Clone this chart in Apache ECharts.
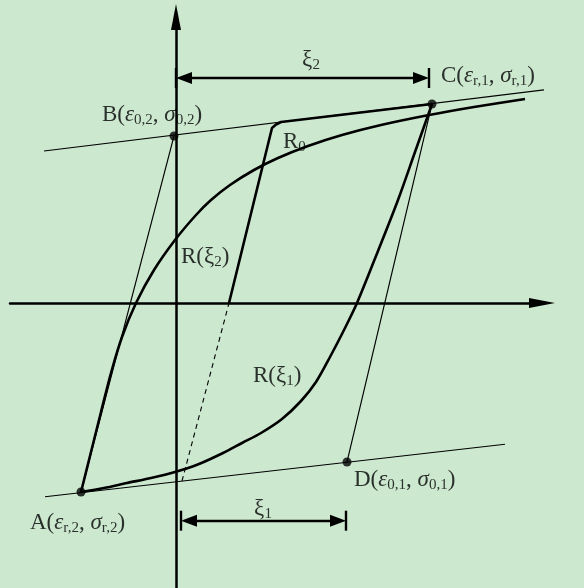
<!DOCTYPE html>
<html>
<head>
<meta charset="utf-8">
<script src="https://cdn.jsdelivr.net/npm/echarts@6/dist/echarts.min.js"></script>
<style>
  html, body { margin: 0; padding: 0; background: #cce8cf; }
  #chart { width: 584px; height: 588px; }
</style>
</head>
<body>
<div id="chart"></div>
<script>
// Hysteresis model of steel: strain ε on x, stress σ on y (normalised units)

// Characteristic points
const pointA = [-4.75, -9.45];   // reversal point (ε r,2 , σ r,2)
const pointB = [-0.1, 8.35];     // asymptote intersection (ε 0,2 , σ 0,2)
const pointC = [12.8, 9.95];     // reversal point (ε r,1 , σ r,1)
const pointD = [8.55, -7.95];    // asymptote intersection (ε 0,1 , σ 0,1)
const pointNames = ['A', 'B', 'C', 'D'];
const pointSubs = [['r,2', 'r,2'], ['0,2', '0,2'], ['r,1', 'r,1'], ['0,1', '0,1']];

// Hardening asymptotes
const upperAsymptote = [[-6.6, 7.6], [20.4, 10.9]];
const lowerAsymptote = [[-6.55, -9.685], [16.45, -7.06]];

// Loading branch with initial curvature R0 (A towards C)
const curveR0 = [
  [-4.75, -9.45], [-4.25, -7.45], [-3.75, -5.45], [-3.25, -3.5], [-2.7, -1.7],
  [-2.0, 0.0], [-1.1, 1.65], [-0.05, 3.15], [1.0, 4.4], [1.75, 5.15],
  [2.7, 5.9], [3.9, 6.65], [5.1, 7.25], [6.6, 7.85], [8.3, 8.4],
  [10.25, 8.9], [12.65, 9.4], [14.9, 9.8], [17.45, 10.2]
];

// Unloading branch R(ξ1) (C back to A)
const curveXi1 = [
  [12.8, 9.95], [11.95, 7.55], [11.1, 5.15], [10.1, 2.6], [9.05, 0.0],
  [8.4, -1.35], [7.7, -2.7], [7.0, -3.95], [6.25, -4.9], [5.3, -5.8],
  [4.25, -6.5], [3.3, -7.0], [2.35, -7.5], [1.15, -8.05], [-0.05, -8.45],
  [-1.25, -8.75], [-2.45, -9.0], [-3.6, -9.25], [-4.75, -9.45]
];

// Reloading branch R(ξ2): elastic part, then along the asymptote to C
const branchXi2 = [[2.65, 0.0], [4.8, 8.75], [5.0, 8.925], [5.25, 9.05], [12.8, 9.95]];
const branchXi2Hidden = [[0.3, -8.9], [2.65, 0.0]];

// Plastic excursions ξ2 (upper) and ξ1 (lower): [start ε, end ε, σ level]
const xi2Span = [0.0, 12.65, 11.25];
const xi1Span = [0.25, 8.5, -10.885];

const FONT = '"Liberation Serif", "Times New Roman", serif';
const INK = '#000';

const rich = {
  n: { fontFamily: FONT, fontSize: 23, color: INK },
  i: { fontFamily: FONT, fontSize: 23, fontStyle: 'italic', color: INK },
  s: { fontFamily: FONT, fontSize: 15, color: INK, padding: [10, 0, 0, 0] }
};

function pointLabel(k) {
  const [a, b] = pointSubs[k];
  return '{n|' + pointNames[k] + '(}{i|ε}{s|' + a + '}{n|, }{i|σ}{s|' + b + '}{n|)}';
}

const labelOffsets = [[-51, 31], [-72, -21], [9, -28], [7, 18]];
const points = [pointA, pointB, pointC, pointD];

function thin(data, extra) {
  return Object.assign({
    type: 'line', data: data, symbol: 'none', clip: false, silent: true,
    lineStyle: { color: INK, width: 1.1 }, z: 2
  }, extra || {});
}
function thick(data, extra) {
  return Object.assign({
    type: 'line', data: data, symbol: 'none', clip: false, silent: true,
    lineStyle: { color: INK, width: 2.6 }, z: 3
  }, extra || {});
}

// Dimension arrow with tips landing on the tick marks
const tipInset = 0.4;
function dimension(span) {
  const [x0, x1, y] = span;
  return [
    [{ coord: [x0 + tipInset, y], symbol: 'triangle' }, { coord: [x1 - tipInset, y], symbol: 'triangle' }],
    [{ coord: [x0, y + 0.5], symbol: 'none' }, { coord: [x0, y - 0.5], symbol: 'none' }],
    [{ coord: [x1, y + 0.5], symbol: 'none' }, { coord: [x1, y - 0.5], symbol: 'none' }]
  ];
}

const chart = echarts.init(document.getElementById('chart'), null, { renderer: 'canvas' });

const axisCommon = {
  type: 'value',
  axisLine: {
    show: true, onZero: true,
    symbol: ['none', 'triangle'], symbolSize: [10, 26],
    lineStyle: { color: INK, width: 2.5 }
  },
  axisTick: { show: false },
  axisLabel: { show: false },
  splitLine: { show: false }
};

chart.setOption({
  animation: false,
  backgroundColor: '#cce8cf',
  grid: { left: 10, right: 42, top: 17, bottom: 0, containLabel: false },
  xAxis: Object.assign({}, axisCommon, { min: -8.3, max: 18.3 }),
  yAxis: Object.assign({}, axisCommon, { min: -14.25, max: 14.3 }),
  series: [
    thin(upperAsymptote),
    thin(lowerAsymptote),
    thin([pointA, pointB]),
    thin([pointC, pointD]),
    thick(curveR0, { smooth: 0.3 }),
    thick(curveXi1, { smooth: 0.3 }),
    thick(branchXi2),
    thin(branchXi2Hidden, { lineStyle: { color: INK, width: 1.1, type: [5, 4] } }),
    {
      type: 'line', data: [], silent: true,
      markLine: {
        silent: true, animation: false,
        symbolSize: [12, 16],
        label: { show: false },
        lineStyle: { color: INK, width: 2.4, type: 'solid' },
        emphasis: { disabled: true },
        data: dimension(xi2Span).concat(dimension(xi1Span))
      }
    },
    {
      type: 'scatter', silent: true, z: 5,
      symbol: 'circle', symbolSize: 9,
      itemStyle: { color: INK },
      data: points.map((p, k) => ({
        value: p,
        label: {
          show: true, position: 'inside', align: 'left', verticalAlign: 'middle',
          offset: labelOffsets[k], formatter: pointLabel(k), rich: rich
        }
      }))
    },
    {
      type: 'scatter', silent: true, z: 5,
      symbolSize: 0,
      label: { show: true, position: 'inside', verticalAlign: 'middle', rich: rich },
      data: [
        { value: [6.75, 12.15], label: { align: 'center', formatter: '{n|ξ}{s|2}' } },
        { value: [4.35, -10.3], label: { align: 'center', formatter: '{n|ξ}{s|1}' } },
        { value: [5.35, 8.05], label: { align: 'left', formatter: '{n|R}{s|0}' } },
        { value: [0.25, 2.3], label: { align: 'left', formatter: '{n|R(ξ}{s|2}{n|)}' } },
        { value: [3.85, -3.65], label: { align: 'left', formatter: '{n|R(ξ}{s|1}{n|)}' } }
      ]
    }
  ]
});
</script>
</body>
</html>
